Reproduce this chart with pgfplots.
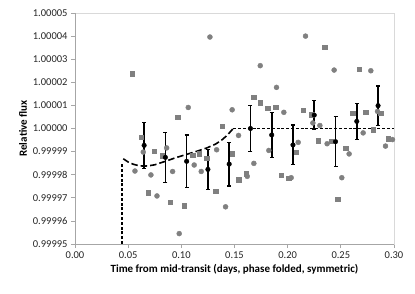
\documentclass[border=0pt]{standalone}
\usepackage{pgfplots}
\pgfplotsset{compat=1.18}
\usepackage{fontspec}
\setmainfont{Carlito}
\definecolor{ptgray}{HTML}{808080}
\definecolor{axgray}{HTML}{A6A6A6}
\definecolor{boxgray}{HTML}{D9D9D9}
\begin{document}
\begin{tikzpicture}
\begin{axis}[
  at={(0,0)}, anchor=south west,
  scale only axis, width=319pt, height=231pt,
  xmin=0, xmax=0.30, ymin=-5, ymax=5,
  xtick={0,0.05,0.10,0.15,0.20,0.25,0.30},
  xticklabels={0.00,0.05,0.10,0.15,0.20,0.25,0.30},
  ytick={-5,-4,-3,-2,-1,0,1,2,3,4,5},
  yticklabels={0.99995,0.99996,0.99997,0.99998,0.99999,1.00000,1.00001,1.00002,1.00003,1.00004,1.00005},
  xtick pos=bottom, ytick pos=left,
  tick align=outside, major tick length=4pt,
  tick style={axgray, line width=0.8pt},
  axis line style={boxgray, line width=0.8pt},
  tick label style={font=\fontsize{10.5}{12}\selectfont, text=black!85},
  xlabel={Time from mid-transit (days, phase folded, symmetric)},
  ylabel={Relative flux},
  label style={font=\fontsize{11}{13}\selectfont\bfseries},
  xlabel style={yshift=1pt},
  ylabel style={yshift=-1pt},
  clip=false,
]
% gray squares
\addplot[only marks, mark=square*, mark size=2.2pt, color=ptgray] coordinates {
(0.0539,2.37) (0.0965,0.48) (0.1682,1.36) (0.1742,1.12) (0.1814,0.87) (0.1886,0.91)
(0.1384,0.10) (0.2347,3.53) (0.2672,2.56) (0.2146,0.80) (0.2225,0.60) (0.2610,0.65)
(0.2735,0.71) (0.2876,0.65) (0.0620,-0.37) (0.0745,-0.97) (0.0820,-1.18) (0.0689,-2.78)
(0.0893,-3.18) (0.1027,-3.35) (0.1106,-1.16) (0.1168,-1.09) (0.1238,-1.28) (0.1322,-2.71)
(0.1476,-1.09) (0.1538,-2.22) (0.1610,-1.96) (0.1942,-2.03) (0.2011,-2.16) (0.2083,-1.02)
(0.2287,-0.53) (0.2412,-0.56) (0.2472,-3.07) (0.2547,-0.86) (0.2804,-0.06) (0.2945,-0.45)
};
% gray circles
\addplot[only marks, mark=*, mark size=2.5pt, color=ptgray] coordinates {
(0.1269,3.96) (0.1742,2.72) (0.1895,1.78) (0.1065,0.91) (0.1478,0.81) (0.1964,0.70)
(0.2168,4.00) (0.2437,2.53) (0.2782,2.50) (0.2237,0.24) (0.2303,0.13) (0.2845,0.74)
(0.0642,-1.02) (0.0862,-0.84) (0.0564,-1.84) (0.0714,-2.01) (0.0918,-1.86) (0.0771,-2.92)
(0.0980,-4.55) (0.1121,-1.58) (0.1187,-1.86) (0.1332,-0.92) (0.1416,-3.39) (0.1538,-0.30)
(0.1682,-1.51) (0.1620,-2.07) (0.1823,-0.95) (0.2033,-2.13) (0.2099,-0.60) (0.2371,-0.66)
(0.2509,-2.13) (0.2578,-1.10) (0.2710,-0.19) (0.2920,-0.76) (0.2986,-0.48)
};
% model: ingress vertical and flat out-of-transit (short dashes)
\addplot[black, line width=1.6pt, dash pattern=on 3pt off 1.8pt] coordinates {
(0.0440,-5) (0.0440,-1.47)
};
\addplot[black, line width=1.6pt, dash pattern=on 3pt off 1.8pt] coordinates {
(0.1490,0) (0.300,0)
};
% model: in-transit curve (long dashes)
\addplot[black, line width=1.6pt, dash pattern=on 6.5pt off 3pt] coordinates {
(0.0454,-1.31) (0.050,-1.45) (0.055,-1.55) (0.060,-1.61) (0.065,-1.63) (0.070,-1.61)
(0.075,-1.57) (0.085,-1.42) (0.095,-1.26) (0.105,-1.12) (0.115,-0.98) (0.124,-0.84)
(0.132,-0.68) (0.138,-0.50) (0.143,-0.30) (0.1488,0)
};
% binned points
\addplot[only marks, mark=*, mark size=2.3pt, color=black,
  error bars/.cd, y dir=both, y explicit,
  error bar style={line width=1.7pt},
  error mark options={rotate=90, mark size=2pt, line width=1.1pt}]
  coordinates {
(0.065,-0.73) +- (0,1.00)
(0.085,-1.25) +- (0,1.07)
(0.105,-1.42) +- (0,1.14)
(0.125,-1.77) +- (0,0.88)
(0.145,-1.54) +- (0,0.95)
(0.165,0.00) +- (0,1.00)
(0.185,-0.28) +- (0,0.99)
(0.205,-0.71) +- (0,0.86)
(0.225,0.58) +- (0,0.62)
(0.245,-0.57) +- (0,1.08)
(0.265,0.31) +- (0,0.78)
(0.285,0.99) +- (0,0.85)
};
\draw[axgray, line width=0.8pt] (rel axis cs:0,1) -- (rel axis cs:0,0) -- (rel axis cs:1,0);
\end{axis}
\pgfresetboundingbox
\path[use as bounding box] (-75pt,-49pt) rectangle (340pt,244pt);
\end{tikzpicture}
\end{document}
